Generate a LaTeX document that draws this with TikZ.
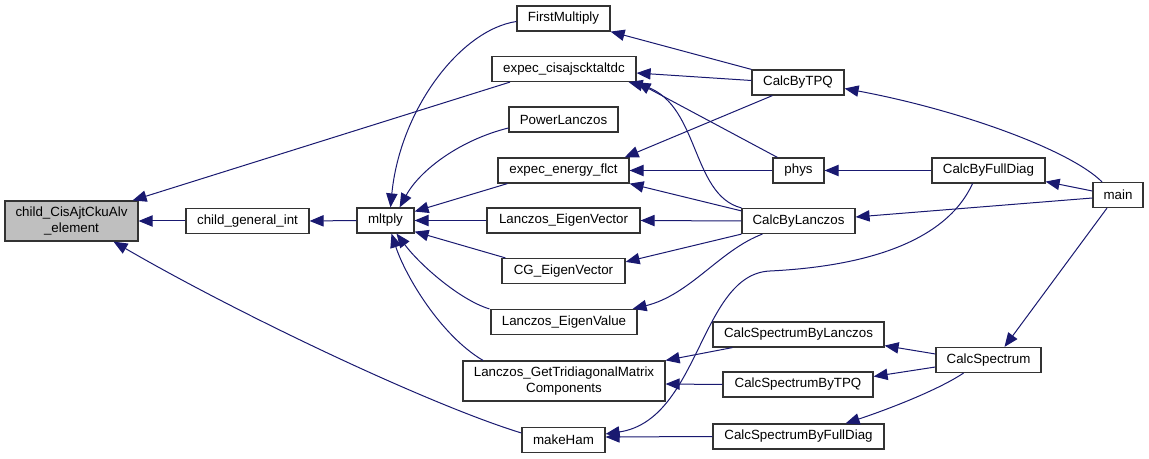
\documentclass[tikz,border=0pt]{standalone}
\usepackage{fontspec}
\setmainfont{Liberation Sans}
\usetikzlibrary{arrows.meta,calc}
\definecolor{edgeblue}{RGB}{25,25,112}

\begin{document}
\begin{tikzpicture}[x=0.75pt,y=-0.75pt,>={Triangle[length=10.5pt,width=8.5pt]},
  fn/.style={draw=black!80,fill=white,line width=0.9pt,inner sep=0pt,minimum height=18.75pt,font=\fontsize{10}{11.5}\selectfont,align=center},
  cur/.style={fn,fill=black!25,minimum height=30pt},
  two/.style={fn,minimum height=30pt},
  wd/.style={minimum width=#1*0.75pt},
  call/.style={->,draw=edgeblue,line width=0.75pt}]
  \useasboundingbox (0,0) rectangle (1149,459);
  \node[cur,wd=133] (child) at (71.5,221) {child\_CisAjtCkuAlv\\\_element};
  \node[fn,wd=123] (cgi) at (247.5,221) {child\_general\_int};
  \node[fn,wd=57] (mltply) at (385.5,220.5) {mltply};
  \node[fn,wd=93] (first) at (563.5,18.5) {FirstMultiply};
  \node[fn,wd=144] (cisajs) at (564,69) {expec\_cisajscktaltdc};
  \node[fn,wd=109] (power) at (563.5,119.5) {PowerLanczos};
  \node[fn,wd=131] (energy) at (563.5,170.5) {expec\_energy\_flct};
  \node[fn,wd=153] (levec) at (563.5,220.5) {Lanczos\_EigenVector};
  \node[fn,wd=123] (cgevec) at (563.5,271) {CG\_EigenVector};
  \node[fn,wd=146] (lval) at (564,322) {Lanczos\_EigenValue};
  \node[two,wd=202] (tridiag) at (564,381) {Lanczos\_GetTridiagonalMatrix\\Components};
  \node[fn,wd=83] (makeham) at (563.5,440) {makeHam};
  \node[fn,wd=92] (tpq) at (798,82.5) {CalcByTPQ};
  \node[fn,wd=51] (phys) at (798.5,170.5) {phys};
  \node[fn,wd=113] (lanczos) at (798.5,221) {CalcByLanczos};
  \node[fn,wd=171] (specl) at (798.5,334.5) {CalcSpectrumByLanczos};
  \node[fn,wd=150] (spectpq) at (798,384.5) {CalcSpectrumByTPQ};
  \node[fn,wd=171] (specfd) at (798.5,436.5) {CalcSpectrumByFullDiag};
  \node[fn,wd=113] (fulldiag) at (988.5,170.5) {CalcByFullDiag};
  \node[fn,wd=50] (main) at (1118,195) {main};
  \node[fn,wd=105] (spec) at (988.5,360) {CalcSpectrum};

  \draw[call] (cgi.west) -- (child.east);
  \draw[call] (mltply.west) -- (cgi.east);
  \draw[call] ($(cisajs.south)+(-54,0)$) -- ($(child.north east)+(-6,0)$);
  \draw[call] ($(makeham.west)+(0,-7)$) .. controls (430,405) and (240,315) .. ($(child.south)+(42,0)$);
  \draw[call] ($(first.west)+(0,3)$) .. controls (460,30) and (400,110) .. ($(mltply.north)+(5,0)$);
  \draw[call] ($(power.west)+(0,8.5)$) .. controls (460,140) and (420,170) .. ($(mltply.north east)+(-15,0)$);
  \draw[call] ($(energy.south west)+(10,0)$) -- ($(mltply.east)+(0,-9)$);
  \draw[call] (levec.west) -- (mltply.east);
  \draw[call] ($(cgevec.north west)+(4,0)$) -- ($(mltply.south east)+(0,-2)$);
  \draw[call] ($(lval.north west)+(-1,0)$) .. controls (460,300) and (420,265) .. ($(mltply.south)+(11,0)$);
  \draw[call] ($(tridiag.north)+(-81,0)$) .. controls (440,335) and (405,275) .. ($(mltply.south)+(6,0)$);
  \draw[call] (tpq.north west) -- (first.south east);
  \draw[call] ($(tpq.west)+(0,-2)$) -- ($(cisajs.east)+(0,4)$);
  \draw[call] ($(phys.north west)+(5,0)$) -- (cisajs.south east);
  \draw[call] (lanczos.north west) .. controls (690,195) and (700,100) .. ($(cisajs.south east)+(-8,0)$);
  \draw[call] ($(tpq.south west)+(21,0)$) -- ($(energy.north east)+(-5,0)$);
  \draw[call] (phys.west) -- (energy.east);
  \draw[call] ($(lanczos.north west)+(0,3)$) -- (energy.south east);
  \draw[call] (lanczos.west) -- (levec.east);
  \draw[call] (lanczos.south west) -- ($(cgevec.north east)+(0,4)$);
  \draw[call] ($(lanczos.south west)+(21,0)$) .. controls (720,250) and (690,295) .. ($(lval.north east)+(-5,0)$);
  \draw[call] ($(specl.south west)+(20,0)$) -- (tridiag.north east);
  \draw[call] (spectpq.west) -- ($(tridiag.east)+(0,3)$);
  \draw[call] (specfd.west) -- ($(makeham.east)+(0,-3)$);
  \draw[call] ($(fulldiag.south)+(-16,0)$) .. controls (940,255) and (830,268) .. (770,271) .. controls (700,274) and (700,420) .. ($(makeham.east)+(0,-6)$);
  \draw[call] (fulldiag.west) -- (phys.east);
  \draw[call] ($(main.north)+(-16,0)$) .. controls (1070,150) and (960,110) .. ($(tpq.east)+(0,6)$);
  \draw[call] ($(main.west)+(0,3)$) -- ($(lanczos.east)+(0,-4)$);
  \draw[call] ($(main.west)+(0,-4)$) -- ($(fulldiag.south east)+(0,-2)$);
  \draw[call] ($(main.south)+(-11,0)$) -- ($(spec.north)+(16,0)$);
  \draw[call] ($(spec.west)+(0,-6)$) -- ($(specl.south east)+(0,-2)$);
  \draw[call] ($(spec.west)+(0,7)$) -- ($(spectpq.east)+(0,-8)$);
  \draw[call] ($(spec.south)+(-25,0)$) .. controls (935,392) and (880,412) .. ($(specfd.north east)+(-39,0)$);
\end{tikzpicture}
\end{document}
